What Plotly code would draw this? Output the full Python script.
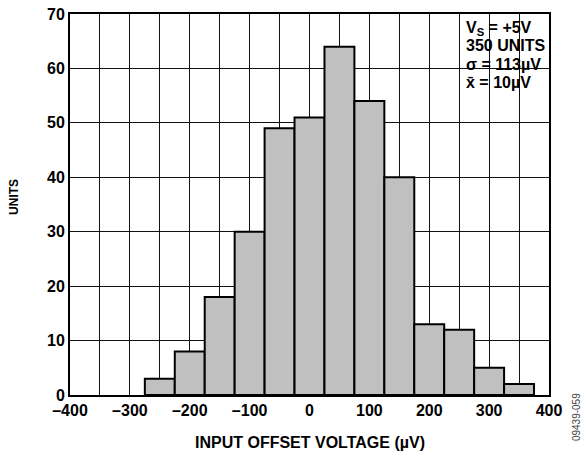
import plotly.graph_objects as go

bin_centers = [-250, -200, -150, -100, -50, 0, 50, 100, 150, 200, 250, 300, 350]
units = [3, 8, 18, 30, 49, 51, 64, 54, 40, 13, 12, 5, 2]
bin_width = 50

x_tickvals = list(range(-400, 401, 100))
x_ticktext = ["–400", "–300", "–200", "–100", "0", "100", "200", "300", "400"]
y_tickvals = [0, 10, 20, 30, 40, 50, 60, 70]

stats_lines = ["V<sub>S</sub> = +5V", "350 UNITS", "σ = 113µV", "x̄ = 10µV"]

font_family = "Liberation Sans, Arial, sans-serif"

fig = go.Figure()
fig.add_trace(go.Bar(
    x=bin_centers, y=units, width=bin_width,
    marker=dict(color="#c0c0c0", line=dict(color="black", width=2)),
    hoverinfo="skip",
))

fig.update_layout(
    width=588, height=455,
    margin=dict(l=70, r=39, t=14, b=60, autoexpand=False),
    paper_bgcolor="white", plot_bgcolor="white",
    showlegend=False,
    font=dict(family=font_family, color="black"),
    xaxis=dict(
        range=[-400, 400], tickvals=x_tickvals, ticktext=x_ticktext,
        showgrid=True, gridcolor="#111", gridwidth=1,
        minor=dict(dtick=50, showgrid=True, gridcolor="#111", gridwidth=1, ticks=""),
        showline=True, linecolor="black", linewidth=2, mirror=True,
        zeroline=False, ticks="", automargin=False,
        tickfont=dict(size=16, family=font_family, weight="bold"),
    ),
    yaxis=dict(
        range=[0, 70], tickvals=y_tickvals,
        showgrid=True, gridcolor="#111", gridwidth=1,
        showline=True, linecolor="black", linewidth=2, mirror=True,
        zeroline=False, ticks="", automargin=False,
        tickfont=dict(size=16, family=font_family, weight="bold"),
    ),
    shapes=[dict(
        type="rect", xref="paper", yref="paper",
        x0=0.795, x1=1.0, y0=0.782, y1=1.0,
        fillcolor="white", line=dict(width=0), layer="between",
    )],
)

annotations = [
    dict(text="<b>INPUT OFFSET VOLTAGE (µV)</b>", xref="paper", yref="paper",
         x=0.5, y=0, yshift=-47, xanchor="center", yanchor="middle",
         showarrow=False, font=dict(size=16, family=font_family)),
    dict(text="<b>UNITS</b>", xref="paper", yref="paper",
         x=0, y=0.52, xshift=-56, textangle=-90, xanchor="center", yanchor="middle",
         showarrow=False, font=dict(size=12, family=font_family)),
    dict(text="09439-059", xref="paper", yref="paper",
         x=1.0, y=-0.058, xshift=27, textangle=-90,
         xanchor="center", yanchor="middle", showarrow=False,
         font=dict(size=10, family=font_family, color="#444")),
]
line_offsets = [-14, -31, -50, -68]
for txt, dy in zip(stats_lines, line_offsets):
    annotations.append(dict(
        text="<b>" + txt + "</b>", xref="paper", yref="paper",
        x=0.823, y=1.0, yshift=dy, xanchor="left", yanchor="middle",
        align="left", showarrow=False,
        font=dict(size=16, family=font_family, color="black"),
    ))
fig.update_layout(annotations=annotations)

fig.write_html(
    "out.html",
    config={"displayModeBar": False},
    post_script="document.body.style.margin='0';document.body.style.padding='0';",
)
